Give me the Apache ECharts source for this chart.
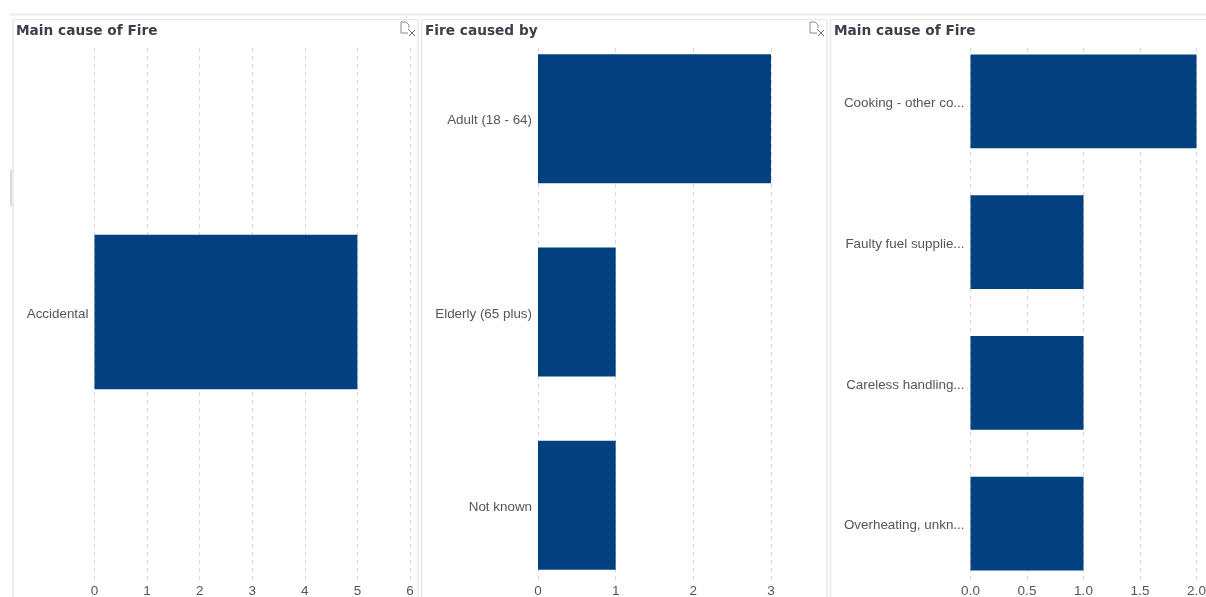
<!DOCTYPE html>
<html><head><meta charset="utf-8">
<style>html,body{margin:0;padding:0;background:#fff;overflow:hidden}#c{width:1206px;height:597px}</style>
<script src="https://cdn.jsdelivr.net/npm/echarts@6/dist/echarts.min.js"></script>
</head><body><div id="c"></div>
<script>
const causeCategories = ['Accidental'];
const causeValues = [5];
const byCategories = ['Adult (18 - 64)', 'Elderly (65 plus)', 'Not known'];
const byValues = [3, 1, 1];
const detailCategories = ['Cooking - other co...', 'Faulty fuel supplie...', 'Careless handling...', 'Overheating, unkn...'];
const detailValues = [2, 1, 1, 1];

const BLUE = '#02407f', TXT = '#555555';
const panels = [
  {title:'Main cause of Fire', tx:16, cats:causeCategories, vals:causeValues, left:94.5, width:315.5, max:6, step:1, dec:0, top:196, h:232},
  {title:'Fire caused by', tx:425, cats:byCategories, vals:byValues, left:538, width:233, max:3, step:1, dec:0, top:22, h:580},
  {title:'Main cause of Fire', tx:834, cats:detailCategories, vals:detailValues, left:970.5, width:226, max:2, step:0.5, dec:1, top:31, h:563}
];
const grids=[], xAxes=[], yAxes=[], series=[], titles=[];
panels.forEach((p,i)=>{
  // grid that carries the value axis and its dashed lines
  grids.push({left:p.left, width:p.width, top:48, height:533, outerBoundsMode:'none'});
  xAxes.push({type:'value', gridIndex:grids.length-1, min:0, max:p.max, interval:p.step, position:'bottom',
    axisLine:{show:false}, axisTick:{show:false},
    axisLabel:{color:TXT, fontFamily:'Liberation Sans', fontSize:13.5, margin:3, hideOverlap:false,
      showMinLabel:true, showMaxLabel:true, formatter:v=>v.toFixed(p.dec)},
    splitLine:{show:true, lineStyle:{color:'#d9d9d9', type:[4,4], width:1}}});
  yAxes.push({type:'category', gridIndex:grids.length-1, data:p.cats, show:false});
  // grid that carries the bars
  grids.push({left:p.left, width:p.width, top:p.top, height:p.h, outerBoundsMode:'none'});
  xAxes.push({type:'value', gridIndex:grids.length-1, min:0, max:p.max, show:false});
  yAxes.push({type:'category', gridIndex:grids.length-1, data:p.cats, inverse:true,
    axisLine:{show:false}, axisTick:{show:false},
    axisLabel:{margin:6, formatter:v=>'{a|'+v+'}',
      rich:{a:{color:TXT, fontFamily:'Liberation Sans', fontSize:13.4, padding:[4,0,0,0]}}}});
  series.push({type:'bar', xAxisIndex:grids.length-1, yAxisIndex:grids.length-1, data:p.vals,
    barWidth:'66.7%', itemStyle:{color:BLUE}, silent:true, z:5});
  titles.push({text:p.title, left:p.tx, top:24, padding:0, textStyle:{fontFamily:'DejaVu Sans', fontWeight:'bold', fontSize:13.7, color:'#3a3f4a'}});
});
const ln=(x1,y1,x2,y2,c,w)=>({type:'line',shape:{x1,y1,x2,y2},style:{stroke:c||'#e6e6e6',lineWidth:w||1},silent:true,z:1});
const icon=(x,y)=>({type:'group',x,y,silent:true,z:10,children:[
  {type:'polyline',shape:{points:[[8,11],[1,11],[1,0],[6,0],[9,3],[9,6]]},style:{stroke:'#8a8a8a',fill:null,lineWidth:1}},
  {type:'line',shape:{x1:8,y1:7,x2:15,y2:14},style:{stroke:'#707070',lineWidth:1}},
  {type:'line',shape:{x1:15,y1:8,x2:9,y2:14},style:{stroke:'#707070',lineWidth:1}}]});
const graphic=[
  ln(10,14.5,1206,14.5,'#ececec',2),
  ln(13,19.5,417.5,19.5), ln(13,19.5,13,597,'#e8e8e8',1.5), ln(418,19.5,418,597,'#e8e8e8',1.5),
  ln(421.5,19.5,826.5,19.5), ln(421.5,19.5,421.5,597,'#e8e8e8',1.5), ln(827,19.5,827,597,'#e8e8e8',1.5),
  ln(830.5,19.5,1206,19.5), ln(830.5,19.5,830.5,597,'#e8e8e8',1.5),
  {type:'rect',shape:{x:10,y:170,width:2.5,height:36},style:{fill:'#dcdcdc'},silent:true},
  icon(400,22), icon(809,22)
];
const chart=echarts.init(document.getElementById('c'),null,{renderer:'canvas'});
chart.setOption({animation:false, backgroundColor:'#ffffff', title:titles, grid:grids, xAxis:xAxes, yAxis:yAxes, series, graphic, tooltip:{show:false}});
</script></body></html>
